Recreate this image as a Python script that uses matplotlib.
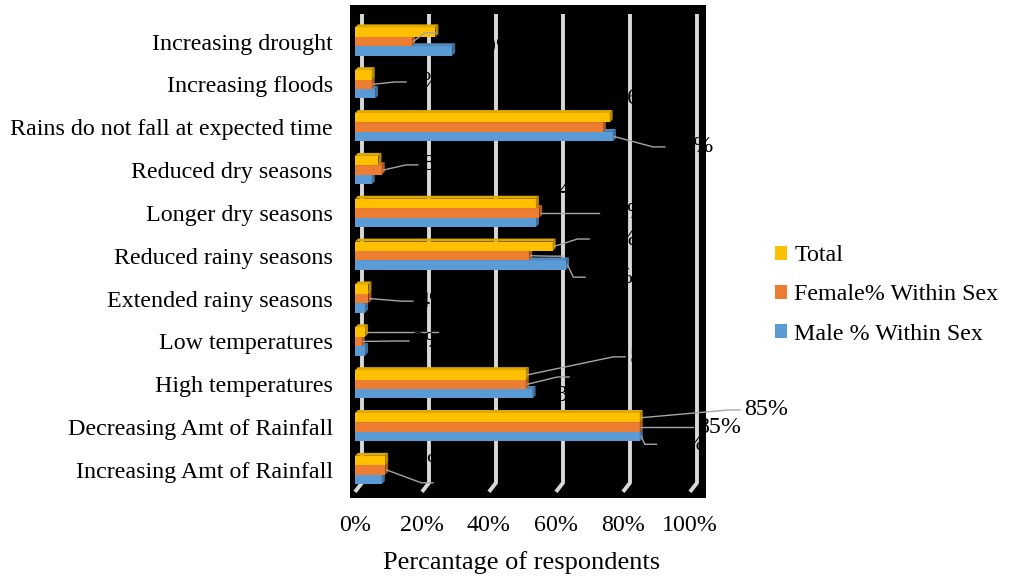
import numpy as np
import matplotlib

matplotlib.use("Agg")
import matplotlib.pyplot as plt  # noqa: E402
from matplotlib.colors import to_rgb  # noqa: E402
from matplotlib.patches import Patch, Polygon, Rectangle  # noqa: E402

plt.rcParams["font.family"] = ["Liberation Serif", "DejaVu Serif"]

# Observed climate changes, listed top to bottom as drawn
categories = [
    "Increasing drought",
    "Increasing floods",
    "Rains do not fall at expected time",
    "Reduced dry seasons",
    "Longer dry seasons",
    "Reduced rainy seasons",
    "Extended rainy seasons",
    "Low temperatures",
    "High temperatures",
    "Decreasing Amt of Rainfall",
    "Increasing Amt of Rainfall",
]
total = [24, 5, 76, 7, 54, 59, 4, 3, 51, 85, 9]
female = [17, 5, 74, 8, 55, 52, 4, 2, 51, 85, 9]
male = [29, 6, 77, 5, 54, 63, 3, 3, 53, 85, 8]
xticks = [0, 20, 40, 60, 80, 100]

series = [
    ("Total", total, "#FFC000", -0.22),
    ("Female% Within Sex", female, "#ED7D31", 0.0),
    ("Male % Within Sex", male, "#5B9BD5", 0.22),
]

# Data label placement: (series index, category index, label x, label y, leader?)
label_spots = [
    (1, 0, 24.2, -0.20, True),
    (2, 0, 34.9, 0.15, False),
    (1, 1, 15.2, 0.945, True),
    (0, 2, 77.6, 1.32, False),
    (2, 2, 92.5, 2.46, True),
    (1, 3, 18.8, 2.88, True),
    (1, 4, 72.8, 4.00, True),
    (0, 4, 57.6, 3.47, False),
    (0, 5, 69.9, 4.61, True),
    (1, 5, 62.1, 5.01, True),
    (2, 5, 68.7, 5.50, True),
    (1, 6, 17.3, 6.06, True),
    (0, 7, 24.8, 6.78, True),
    (1, 7, 16.1, 6.99, True),
    (0, 8, 80.6, 7.36, True),
    (1, 8, 63.9, 7.83, True),
    (2, 8, 56.7, 8.27, False),
    (0, 9, 114.9, 8.60, True),
    (1, 9, 100.9, 9.00, True),
    (2, 9, 90.0, 9.40, True),
    (1, 10, 23.3, 10.30, True),
    (0, 10, 17.9, 9.86, False),
]

BAR_H = 0.22
DX, DY = 0.9, 0.07  # bar depth in data units
WALL = 2.09  # offset of the back wall gridlines
FS = 17.3


def shade(color, k):
    return tuple(c * k for c in to_rgb(color))


def bar3d(ax, y, width, color):
    top, bot = y - BAR_H / 2, y + BAR_H / 2
    ax.add_patch(Rectangle((0, top), width, BAR_H, facecolor=color,
                           edgecolor="none", zorder=3))
    ax.add_patch(Polygon([(0, top), (width, top), (width + DX, top - DY),
                          (DX, top - DY)], closed=True,
                         facecolor=shade(color, 0.88), edgecolor="none",
                         zorder=3))
    ax.add_patch(Polygon([(width, top), (width + DX, top - DY),
                          (width + DX, bot - DY), (width, bot)], closed=True,
                         facecolor=shade(color, 0.72), edgecolor="none",
                         zorder=3))


fig = plt.figure(figsize=(10.14, 5.79), dpi=100)
ax = fig.add_axes([350 / 1014, 81 / 579, 356 / 1014, 493 / 579])
ax.set_facecolor("black")
ax.set_xlim(-1.49, 104.78)
ax.set_ylim(10.654, -0.852)
for s in ax.spines.values():
    s.set_visible(False)

# back wall gridlines with the floor hook
for v in xticks:
    ax.plot([v + WALL, v + WALL, v], [-0.642, 10.30, 10.51],
            color="#d9d9d9", lw=2.8, solid_capstyle="butt", zorder=1)

ypos = np.arange(len(categories))
for _, vals, color, off in reversed(series):
    for y, v in zip(ypos, vals):
        bar3d(ax, y + off, v, color)

for si, ci, lx, ly, leader in label_spots:
    _, vals, _, off = series[si]
    v = vals[ci]
    if leader:
        sx, sy = v + DX / 2, ci + off
        if lx - 3.5 > sx:
            xs, ys = [sx, lx - 3.5, lx], [sy, ly, ly]
        else:
            xs, ys = [sx, lx], [sy, ly]
        ax.plot(xs, ys, color="#a6a6a6", lw=1.0, zorder=4, clip_on=False)
        tx = lx + 1.3
    else:
        tx = lx
    ax.text(tx, ly, f"{v}%", color="black", fontsize=FS, ha="left",
            va="center", zorder=5, clip_on=False)

ax.set_xticks(xticks, [f"{t}%" for t in xticks], fontsize=FS)
ax.set_yticks(ypos, categories, fontsize=FS)
ax.tick_params(axis="both", length=0)
ax.tick_params(axis="x", pad=12)
ax.tick_params(axis="y", pad=12.5)

fig.text(522 / 1014, 1 - 563 / 579, "Percantage of respondents",
         fontsize=19, ha="center", va="center")

handles = [Patch(facecolor=c, edgecolor="none", label=n)
           for n, _, c, _ in series]
fig.legend(handles=handles, loc="center left",
           bbox_to_anchor=(775 / 1014, 1 - 295 / 579), frameon=False,
           fontsize=FS, handlelength=0.5, handleheight=0.5,
           handletextpad=0.3, labelspacing=0.75, borderpad=0,
           borderaxespad=0)

fig.savefig("out.png", dpi=100)
